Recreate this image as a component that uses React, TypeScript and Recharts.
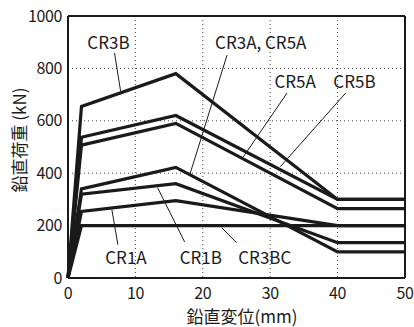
import React from 'react';
import { LineChart, Line, XAxis, YAxis, CartesianGrid, ReferenceLine, ReferenceDot } from 'recharts';

const dispX = [0, 2, 16, 40, 50];
const cr3b = [0, 655, 780, 300, 300];
const cr5b = [0, 537, 620, 300, 300];
const cr5a = [0, 507, 590, 265, 265];
const cr3a = [0, 340, 422, 100, 100];
const cr1b = [0, 320, 360, 135, 135];
const cr1a = [0, 254, 295, 200, 200];
const cr3bc = [0, 200, 200, 200, 200];
const xTicks = [0, 10, 20, 30, 40, 50];
const yTicks = [0, 200, 400, 600, 800, 1000];

const seriesList = [
  { name: 'CR3B', values: cr3b },
  { name: 'CR5B', values: cr5b },
  { name: 'CR5A', values: cr5a },
  { name: 'CR3A', values: cr3a },
  { name: 'CR1B', values: cr1b },
  { name: 'CR1A', values: cr1a },
  { name: 'CR3BC', values: cr3bc },
];

const labelNames = ['CR3B', 'CR3A, CR5A', 'CR5A', 'CR5B', 'CR1A', 'CR1B', 'CR3BC'];
const labelX = [6.0, 28.6, 33.7, 42.5, 8.6, 19.7, 29.2];
const labelY = [897, 897, 748, 748, 78, 78, 78];
const leaderFromX = [6.9, 23.6, 32.5, 41.2, 7.4, 17.3, 25.0];
const leaderFromY = [859, 851, 706, 706, 127, 138, 135];
const leaderToX = [7.8, 18.1, 26.0, 31.5, 6.5, 13.3, 22.8];
const leaderToY = [714, 397, 462, 425, 262, 344, 192];

const FONT = '"Noto Sans CJK JP", "Noto Sans", sans-serif';
const INK = '#1a1a1a';

const YLabel = () => (
  <text
    x={18}
    y={140}
    transform="rotate(-90, 18, 140)"
    textAnchor="middle"
    dominantBaseline="central"
    fontFamily={FONT}
    fontSize={17}
    fill={INK}
  >
    鉛直荷重 (kN)
  </text>
);

const XLabel = () => (
  <text x={242} y={315} textAnchor="middle" dominantBaseline="central" fontFamily={FONT} fontSize={17} fill={INK}>
    鉛直変位(mm)
  </text>
);

const tickStyle = { fill: INK, fontSize: 16, fontFamily: FONT, letterSpacing: -0.4 };

export default function App() {
  return (
    <div style={{ position: 'absolute', left: 0, top: 0 }}>
      <LineChart width={414} height={327} margin={{ top: 16, right: 9, bottom: 0, left: 0 }}>
        <CartesianGrid stroke="#444" strokeWidth={1} strokeDasharray="1 3" />
        <XAxis
          type="number"
          dataKey="x"
          domain={[0, 50]}
          ticks={xTicks}
          allowDuplicatedCategory={false}
          height={49}
          tickLine={false}
          axisLine={{ stroke: INK, strokeWidth: 2 }}
          tick={tickStyle}
          tickMargin={4}
          label={<XLabel />}
        />
        <YAxis
          type="number"
          domain={[0, 1000]}
          ticks={yTicks}
          width={68}
          tickLine={false}
          axisLine={{ stroke: INK, strokeWidth: 2 }}
          tick={tickStyle}
          tickMargin={0}
          label={<YLabel />}
        />
        <ReferenceLine y={1000} stroke={INK} strokeWidth={2} />
        <ReferenceLine x={50} stroke={INK} strokeWidth={2} />
        {seriesList.map((s) => (
          <Line
            key={s.name}
            name={s.name}
            data={dispX.map((x, i) => ({ x, y: s.values[i] }))}
            dataKey="y"
            stroke={INK}
            strokeWidth={3.2}
            dot={false}
            isAnimationActive={false}
            strokeLinejoin="miter"
          />
        ))}
        {labelNames.map((n, i) => (
          <ReferenceLine
            key={'l' + i}
            segment={[
              { x: leaderFromX[i], y: leaderFromY[i] },
              { x: leaderToX[i], y: leaderToY[i] },
            ]}
            stroke={INK}
            strokeWidth={1}
          />
        ))}
        {labelNames.map((n, i) => (
          <ReferenceDot
            key={'t' + i}
            x={labelX[i]}
            y={labelY[i]}
            r={0}
            fill="none"
            stroke="none"
            label={{ value: n, position: 'center', fill: INK, fontSize: 17, fontFamily: FONT }}
          />
        ))}
      </LineChart>
    </div>
  );
}
